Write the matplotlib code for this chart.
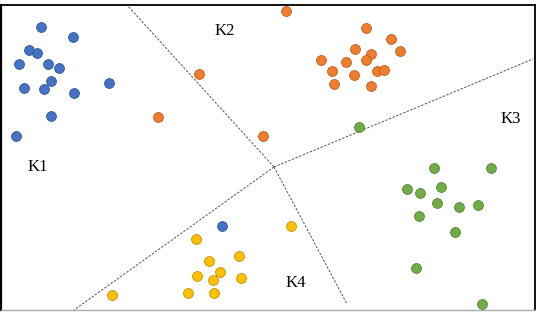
import matplotlib.pyplot as plt

# cluster points (pixel-like units, y grows downward)
blue_x = [41, 73, 29, 37, 19, 48, 59, 51, 24, 44, 74, 109, 51, 16, 222]
blue_y = [27, 37, 50, 53, 64, 64, 68, 81, 88, 89, 93, 83, 116, 136, 226]

orange_x = [286, 199, 158, 263, 366, 391, 400, 355, 371, 366, 321, 346, 332, 354, 377, 384, 334, 371]
orange_y = [11, 74, 117, 136, 28, 39, 51, 49, 54, 60, 60, 62, 71, 75, 71, 70, 84, 86]

green_x = [359, 434, 491, 407, 420, 441, 437, 459, 478, 419, 455, 416, 482]
green_y = [127, 168, 168, 189, 193, 187, 203, 207, 205, 216, 232, 268, 304]

yellow_x = [291, 196, 209, 239, 220, 197, 213, 241, 188, 214, 112]
yellow_y = [226, 239, 261, 256, 272, 276, 280, 278, 293, 293, 295]

# boundary lines between the regions
center = (274, 167)
ends = [(127, 5), (533, 59), (74, 310), (347, 304)]

labels = ["K1", "K2", "K3", "K4"]
label_pos = [(38, 167), (225, 31), (511, 119), (296, 283)]

fig = plt.figure(figsize=(5.44, 3.22), dpi=100)
ax = fig.add_axes([1 / 544, 1 - 310 / 322, 534 / 544, 305 / 322])
ax.set_xlim(1, 535)
ax.set_ylim(310, 5)
ax.set_xticks([])
ax.set_yticks([])

for ex, ey in ends:
    ax.plot([center[0], ex], [center[1], ey], color="#555555", lw=0.7,
            linestyle=(0, (2.5, 1.5)), zorder=1)

ax.scatter(blue_x, blue_y, s=50, color="#4472C4", edgecolors="#2F5597", linewidths=0.6, zorder=3)
ax.scatter(orange_x, orange_y, s=50, color="#ED7D31", edgecolors="#C55A11", linewidths=0.6, zorder=3)
ax.scatter(green_x, green_y, s=50, color="#70AD47", edgecolors="#548235", linewidths=0.6, zorder=3)
ax.scatter(yellow_x, yellow_y, s=50, color="#FFC000", edgecolors="#BF9000", linewidths=0.6, zorder=3)

for lab, (lx, ly) in zip(labels, label_pos):
    ax.text(lx, ly, lab, fontsize=12, family="Liberation Serif", ha="center", va="center")

for side in ["left", "top", "right"]:
    ax.spines[side].set_color("black")
ax.spines["left"].set_linewidth(1.6)
ax.spines["top"].set_linewidth(1.3)
ax.spines["right"].set_linewidth(1.3)
ax.spines["bottom"].set_color("#AAAAAA")
ax.spines["bottom"].set_linewidth(1.0)

fig.savefig("out.png", dpi=100)
